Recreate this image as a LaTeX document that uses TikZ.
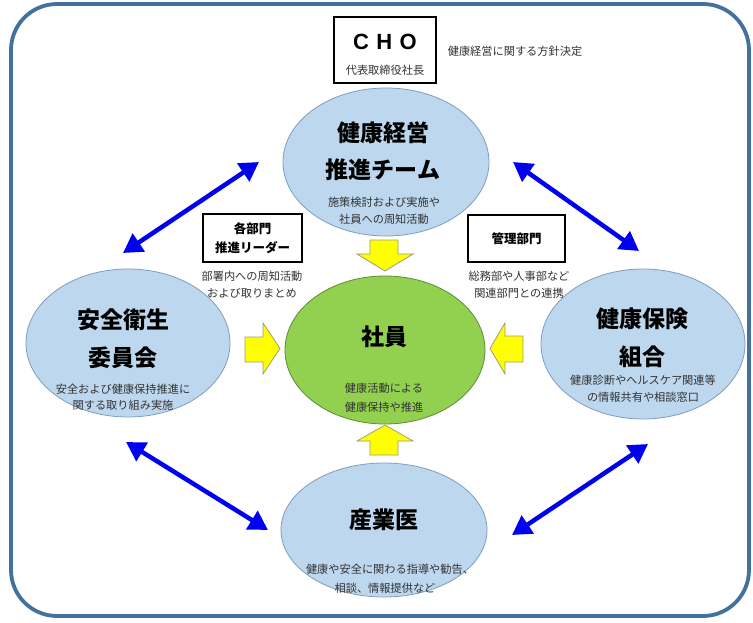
\documentclass[tikz,border=0pt]{standalone}
\usepackage{fontspec}
\setmainfont{Noto Sans CJK JP}
\newfontfamily\latinfont{Liberation Sans}
\usetikzlibrary{shapes.geometric,arrows.meta}
\definecolor{frameblue}{HTML}{41719C}
\definecolor{ellblue}{HTML}{BDD7EE}
\definecolor{ellline}{HTML}{7F9DBD}
\definecolor{empgreen}{HTML}{92D050}
\definecolor{empline}{HTML}{5E8A3A}
\definecolor{arrowyellow}{HTML}{FFFF00}
\definecolor{yline}{HTML}{9A9A80}
\definecolor{arrowblue}{HTML}{0000F0}
\definecolor{textgray}{HTML}{333333}
\begin{document}
\begin{tikzpicture}[x=1pt,y=-1pt,
  ell/.style={ellipse, draw=ellline, fill=ellblue, line width=0.8pt, inner sep=0pt},
  title/.style={font=\fontsize{23}{28}\selectfont\bfseries, inner sep=0pt},
  small/.style={font=\fontsize{11.2}{14}\selectfont, text=textgray, inner sep=0pt},
  boxtext/.style={font=\fontsize{12.5}{15}\selectfont\bfseries, inner sep=0pt},
  labelbox/.style={rectangle, draw=black, line width=1.3pt, fill=white, inner sep=0pt},
  bluearrow/.style={draw=arrowblue, line width=4.5pt,
    {Triangle[length=19pt,width=21pt]}-{Triangle[length=19pt,width=21pt]}},
  blockarrow/.style={fill=arrowyellow, draw=yline, line width=0.8pt, line join=miter}
]
\useasboundingbox (0,0) rectangle (753,623);
\fill[white] (0,0) rectangle (753,623);
% frame
\draw[frameblue, line width=3.8pt, rounded corners=46pt] (11,4) rectangle (749,616);

% CHO
\node[labelbox, minimum width=102pt, minimum height=66pt] (cho) at (385,50) {};
\node[font=\latinfont\fontsize{22}{26}\selectfont\bfseries, inner sep=0pt] (choT) at (385,42) {C\,\,H\,\,O};
\node[small] (choS) at (385,70) {代表取締役社長};
\node[small] (choN) at (515,51) {健康経営に関する方針決定};

% ellipses
\node[ell, minimum width=206pt, minimum height=148pt] (team) at (386,162) {};
\node[ell, minimum width=204pt, minimum height=148pt] (safety) at (128,343) {};
\node[ell, minimum width=204pt, minimum height=150pt] (hi) at (643,344) {};
\node[ell, minimum width=206pt, minimum height=134pt] (doc) at (384,530) {};
\node[ellipse, draw=empline, fill=empgreen, line width=0.8pt, inner sep=0pt,
      minimum width=200pt, minimum height=148pt] (emp) at (385,350) {};

% team text
\node[title] (teamT1) at (383,133) {健康経営};
\node[title] (teamT2) at (383,170) {推進チーム};
\node[small] (teamS1) at (384,202) {施策検討および実施や};
\node[small] (teamS2) at (384,219) {社員への周知活動};

% safety text
\node[title] (safT1) at (123,320) {安全衛生};
\node[title] (safT2) at (123,358) {委員会};
\node[small] (safS1) at (123,389) {安全および健康保持推進に};
\node[small] (safS2) at (123,405) {関する取り組み実施};

% health insurance text
\node[title] (hiT1) at (642,319) {健康保険};
\node[title] (hiT2) at (642,357) {組合};
\node[small] (hiS1) at (643,380) {健康診断やヘルスケア関連等};
\node[small] (hiS2) at (643,397) {の情報共有や相談窓口};

% employee text
\node[title] (empT) at (384,337) {社員};
\node[small] (empS1) at (384,388) {健康活動による};
\node[small] (empS2) at (384,407) {健康保持や推進};

% doctor text
\node[title] (docT) at (384,520) {産業医};
\node[small] (docS1) at (390,569) {健康や安全に関わる指導や勧告、};
\node[small] (docS2) at (385,588) {相談、情報提供など};

% label boxes
\node[labelbox, minimum width=99pt, minimum height=48pt] (lead) at (252.5,238) {};
\node[boxtext] (leadT1) at (252.5,229) {各部門};
\node[boxtext] (leadT2) at (252.5,248) {推進リーダー};
\node[small] (leadS1) at (252,276) {部署内への周知活動};
\node[small] (leadS2) at (252,293) {および取りまとめ};

\node[labelbox, minimum width=97pt, minimum height=47pt] (mgmt) at (516.5,238.5) {};
\node[boxtext] (mgmtT) at (516.5,238.5) {管理部門};
\node[small] (mgmtS1) at (519,276) {総務部や人事部など};
\node[small] (mgmtS2) at (519,293) {関連部門との連携};

% yellow block arrows
\draw[blockarrow] (370,240) -- (398,240) -- (398,254) -- (413,254) -- (385,271) -- (357,254) -- (370,254) -- cycle;
\draw[blockarrow] (370,455) -- (398,455) -- (398,441) -- (413,441) -- (385,425) -- (357,441) -- (370,441) -- cycle;
\draw[blockarrow] (245,337) -- (263,337) -- (263,323) -- (280,348.5) -- (263,374) -- (263,362) -- (245,362) -- cycle;
\draw[blockarrow] (523,336) -- (505,336) -- (505,323) -- (490,348.5) -- (505,374) -- (505,362) -- (523,362) -- cycle;

% blue double arrows
\coordinate (ulA) at (123,253);
\coordinate (ulB) at (259,162);
\coordinate (urA) at (513,162);
\coordinate (urB) at (639,251);
\coordinate (llA) at (126,442);
\coordinate (llB) at (268,530);
\coordinate (lrA) at (512,535);
\coordinate (lrB) at (648,444);
\draw[bluearrow] (ulA) -- (ulB);
\draw[bluearrow] (urA) -- (urB);
\draw[bluearrow] (llA) -- (llB);
\draw[bluearrow] (lrA) -- (lrB);
\end{tikzpicture}
\end{document}
